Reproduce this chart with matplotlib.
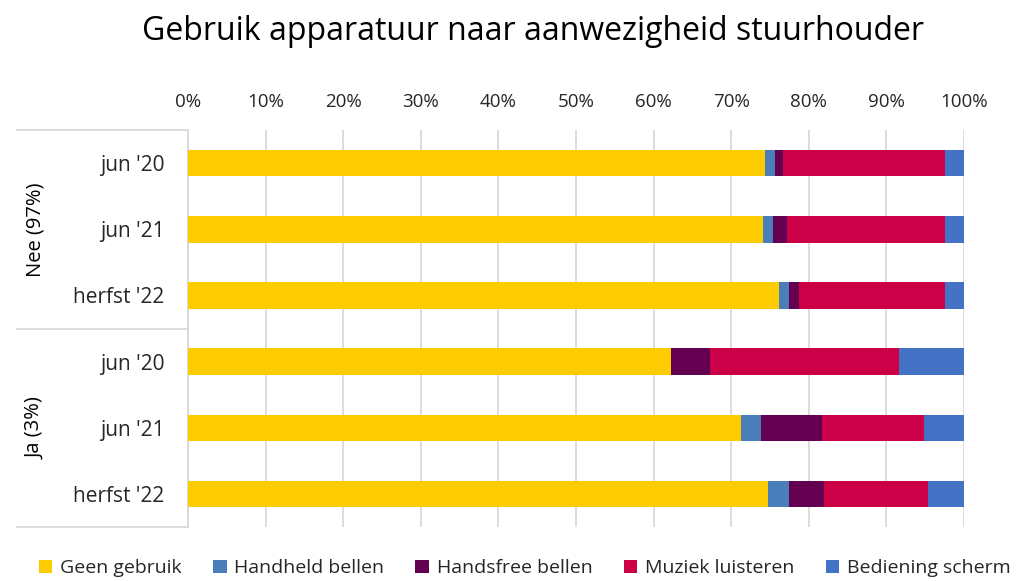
import matplotlib.pyplot as plt
import matplotlib.transforms as mtransforms
import numpy as np

plt.rcParams['font.family'] = ['Open Sans', 'DejaVu Sans']

periods = ["jun '20", "jun '21", "herfst '22", "jun '20", "jun '21", "herfst '22"]
groups = ['Nee (97%)', 'Ja (3%)']

series = ['Geen gebruik', 'Handheld bellen', 'Handsfree bellen', 'Muziek luisteren', 'Bediening scherm']
geen_gebruik = [74.4, 74.1, 76.1, 62.3, 71.3, 74.7]
handheld = [1.2, 1.3, 1.4, 0.0, 2.5, 2.7]
handsfree = [1.1, 1.8, 1.2, 5.0, 7.9, 4.6]
muziek = [20.8, 20.3, 18.8, 24.3, 13.1, 13.4]
bediening = [2.5, 2.5, 2.5, 8.4, 5.2, 4.6]

colors = ['#FCCC00', '#4A7EBB', '#640050', '#CC0046', '#4472C4']

fig = plt.figure(figsize=(10.19, 5.81), dpi=100)
ax = fig.add_axes([0.1845, 0.093, 0.7615, 0.683])

y = np.arange(len(periods))
left = np.zeros(len(periods))
for name, vals, c in zip(series, [geen_gebruik, handheld, handsfree, muziek, bediening], colors):
    ax.barh(y, vals, left=left, height=0.4, color=c, label=name, zorder=3)
    left += np.array(vals)

ax.set_xlim(0, 100)
ax.set_ylim(5.5, -0.5)
ax.set_xticks(np.arange(0, 101, 10))
ax.set_xticklabels([f'{v}%' for v in range(0, 101, 10)])
ax.xaxis.tick_top()
ax.set_yticks(y)
ax.set_yticklabels(periods)
ax.tick_params(axis='x', length=0, pad=14, labelsize=13.5, colors='#262626')
ax.tick_params(axis='y', length=0, pad=17, labelsize=15, colors='#262626')
ax.grid(axis='x', color='#D9D9D9', linewidth=1.3, zorder=0)

for s in ['top', 'right', 'bottom']:
    ax.spines[s].set_visible(False)
ax.spines['left'].set_color('#D9D9D9')
ax.spines['left'].set_linewidth(1.3)

# multi-level category axis lines
trans = mtransforms.blended_transform_factory(ax.transAxes, ax.transData)
for yy in [-0.5, 2.5, 5.5]:
    ax.plot([-0.2205, 0], [yy, yy], color='#D9D9D9', lw=1.3, transform=trans, clip_on=False)
for g, yc in zip(groups, [1, 4]):
    ax.text(-0.197, yc, g, transform=trans, rotation=90, ha='center', va='center',
            fontsize=14.5, color='#000000')

fig.text(0.523, 0.945, 'Gebruik apparatuur naar aanwezigheid stuurhouder',
         ha='center', va='center', fontsize=23, color='#000000')

fig.legend(loc='center', bbox_to_anchor=(0.515, 0.022), ncol=5, frameon=False,
           fontsize=14, handlelength=0.7, handleheight=0.7, handletextpad=0.4,
           columnspacing=1.6, labelcolor='#262626')

fig.savefig('out.png', dpi=100)
